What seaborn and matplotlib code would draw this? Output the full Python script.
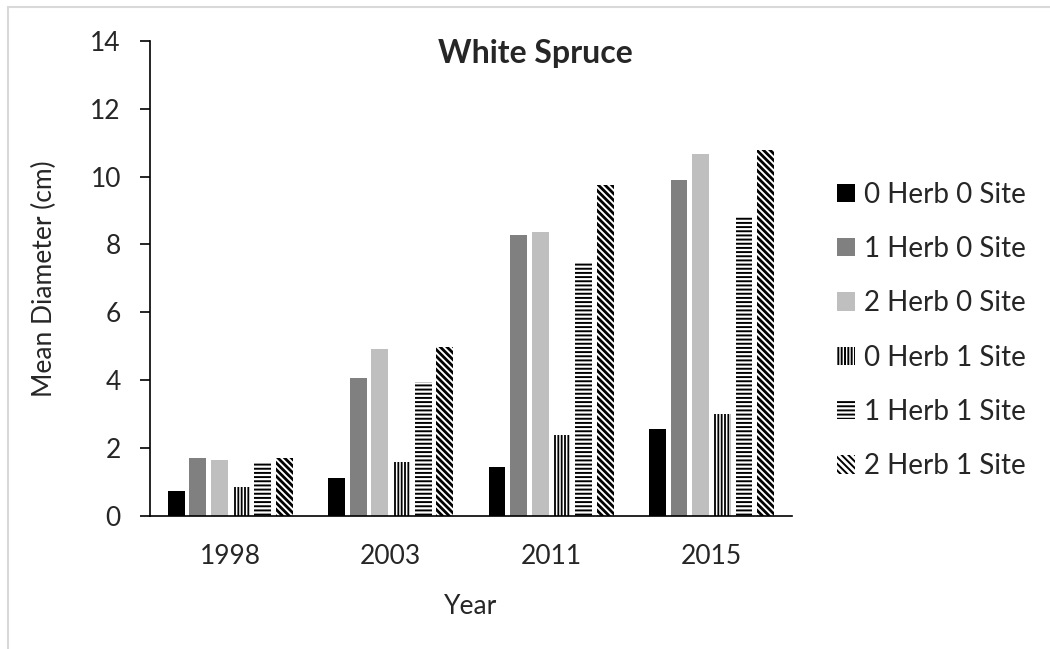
import matplotlib
matplotlib.use("Agg")
import matplotlib.pyplot as plt
import matplotlib.patches as mpatches
import seaborn as sns
import pandas as pd

years = ["1998", "2003", "2011", "2015"]
treatments = ["0 Herb 0 Site", "1 Herb 0 Site", "2 Herb 0 Site",
              "0 Herb 1 Site", "1 Herb 1 Site", "2 Herb 1 Site"]
h0s0 = [0.75, 1.13, 1.44, 2.56]
h1s0 = [1.70, 4.08, 8.29, 9.90]
h2s0 = [1.64, 4.93, 8.36, 10.68]
h0s1 = [0.85, 1.60, 2.38, 3.01]
h1s1 = [1.60, 3.95, 7.44, 8.84]
h2s1 = [1.70, 4.98, 9.74, 10.78]

fills = ["#000000", "#808080", "#bfbfbf", "#ffffff", "#ffffff", "#ffffff"]
hatches = [None, None, None, "|||||", "----", "\\\\\\\\\\"]
hatch_widths = [None, None, None, 1.3, 1.4, 2.0]

rows = []
for name, vals in zip(treatments, [h0s0, h1s0, h2s0, h0s1, h1s1, h2s1]):
    for yr, v in zip(years, vals):
        rows.append({"Year": yr, "Treatment": name, "Diameter": v})
df = pd.DataFrame(rows)

sns.set_theme(style="white")
plt.rcParams["font.family"] = ["Lato", "DejaVu Sans"]
plt.rcParams["hatch.linewidth"] = 1.4
plt.rcParams["hatch.color"] = "black"

fig = plt.figure(figsize=(10.5, 6.49), dpi=100)
ax = fig.add_axes([0.143, 0.205, 0.611, 0.732])

sns.barplot(data=df, x="Year", y="Diameter", hue="Treatment",
            hue_order=treatments, order=years, palette=fills,
            width=0.81, gap=0.22, saturation=1, legend=False, ax=ax)

for cont, h, hw in zip(ax.containers, hatches, hatch_widths):
    for p in cont.patches:
        p.set_linewidth(0)
        if h:
            p.set_edgecolor("black")
            p.set_hatch(h)
            try:
                p.set_hatch_linewidth(hw)
            except AttributeError:
                pass

ax.set_ylim(0, 14)
ax.set_yticks(range(0, 15, 2))
ax.set_xlim(-0.5, 3.5)
for s in ["top", "right"]:
    ax.spines[s].set_visible(False)
for s in ["left", "bottom"]:
    ax.spines[s].set_color("black")
    ax.spines[s].set_linewidth(1.2)
ax.tick_params(axis="y", direction="out", length=7, width=1.2,
               color="black", labelsize=19, left=True, pad=14)
ax.tick_params(axis="x", length=0, labelsize=19, pad=20)
ax.set_xlabel("Year", fontsize=19, labelpad=18)
ax.set_ylabel("Mean Diameter (cm)", fontsize=19, labelpad=24)

fig.text(0.51, 0.918, "White Spruce", ha="center", va="center",
         fontsize=23, fontweight="bold")

ax.legend(ax.containers, treatments, loc="center left",
          bbox_to_anchor=(0.787, 0.491), bbox_transform=fig.transFigure,
          frameon=False, fontsize=20, handlelength=0.64, handleheight=0.64,
          handletextpad=0.3, labelspacing=1.02, borderaxespad=0)

fig.patches.append(mpatches.Rectangle((8 / 1050, -0.1), 1.2, 0.1 + 1 - 7 / 649,
                                      transform=fig.transFigure, fill=False,
                                      edgecolor="#d9d9d9", linewidth=1.5))

fig.savefig("out.png", dpi=100)
